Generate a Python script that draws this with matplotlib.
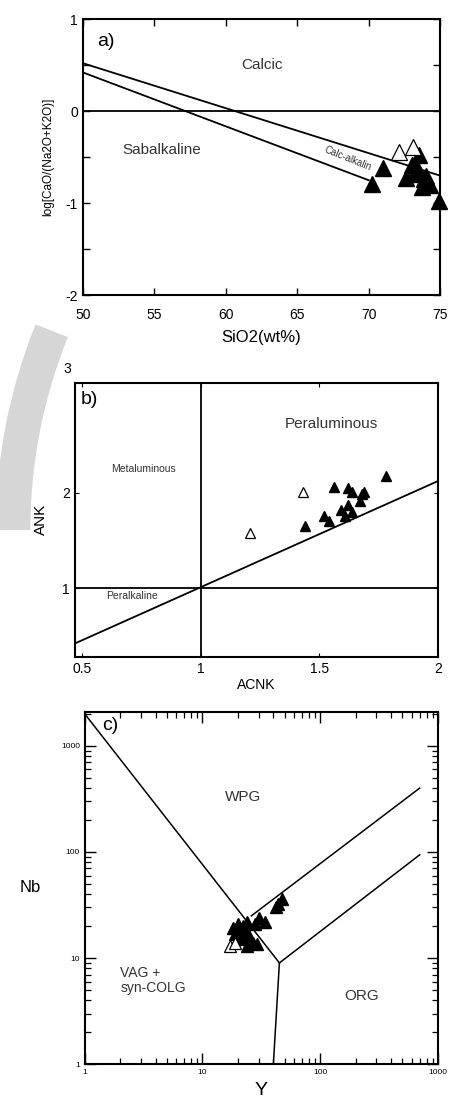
import numpy as np
import matplotlib.pyplot as plt
from matplotlib.patches import Arc

plt.rcParams['font.family'] = ['Liberation Sans', 'DejaVu Sans']
plt.rcParams['axes.unicode_minus'] = False

#%% data
# a) SiO2 vs log[CaO/(Na2O+K2O)]
a_open_x = [72.1, 73.1]
a_open_y = [-0.44, -0.39]
a_fill_x = [70.2, 71.0, 73.5, 73.0, 73.2, 72.6, 73.9, 74.3, 73.7, 73.4, 74.0, 74.9]
a_fill_y = [-0.79, -0.62, -0.48, -0.58, -0.68, -0.73, -0.74, -0.80, -0.82, -0.62, -0.70, -0.98]
a_upper = ([50, 75], [0.52, -0.70])
a_lower = ([50, 70], [0.42, -0.75])

# b) ACNK vs ANK
b_open_x = [1.21, 1.43]
b_open_y = [1.58, 2.01]
b_fill_x = [1.44, 1.56, 1.52, 1.54, 1.62, 1.64, 1.68, 1.69, 1.67, 1.78, 1.59, 1.62, 1.61, 1.64]
b_fill_y = [1.65, 2.06, 1.75, 1.70, 2.05, 2.01, 1.98, 2.01, 1.91, 2.17, 1.82, 1.87, 1.75, 1.80]
b_diag = ([0.47, 2.0], [0.42, 2.12])

# c) Y vs Nb
c_open_x = [17, 19]
c_open_y = [13, 14]
c_fill_x = [47, 44, 42, 34, 30, 28, 24, 22, 20, 18, 19, 23, 25, 21, 27, 29, 24, 22]
c_fill_y = [36, 32, 30, 22, 24, 21, 22, 20, 21, 19, 17, 17, 16, 15, 14, 13.5, 13, 18]
c_lines = [([1, 45], [2000, 9]),
           ([45, 40], [9, 1]),
           ([45, 700], [9, 94]),
           ([26, 700], [25, 400])]

#%% figure
fig = plt.figure(figsize=(4.51, 11.19), dpi=100)

# faint watermark on the left
wm = fig.add_axes([0, 0, 1, 1], zorder=-1)
wm.set_xlim(0, 451)
wm.set_ylim(1119, 0)
wm.axis('off')
wm.add_patch(Arc((545, 530), 1064, 1064, theta1=180, theta2=202, lw=25, color='#d6d6d6'))

lw = 1.3

# ---- panel a
ax = fig.add_axes([0.184, 0.736, 0.792, 0.247])
ax.plot(*a_upper, color='k', lw=lw)
ax.plot(*a_lower, color='k', lw=lw)
ax.axhline(0, color='k', lw=lw)
ax.plot(a_fill_x, a_fill_y, '^', color='k', ms=11, ls='none', clip_on=False)
ax.plot(a_open_x, a_open_y, '^', mfc='white', mec='k', ms=11, mew=0.9, ls='none')
ax.set_xlim(50, 75)
ax.set_ylim(-2, 1)
ax.set_xticks([50, 55, 60, 65, 70, 75])
ax.set_yticks([-2, -1, 0, 1])
ax.set_yticks([-1.5, -0.5, 0.5], minor=True)
ax.tick_params(direction='in', top=True, right=True, labelsize=10, length=5, width=1)
ax.tick_params(axis='x', pad=9)
ax.tick_params(which='minor', direction='in', right=True, length=5, width=1)
ax.set_xlabel('SiO2(wt%)', fontsize=12, labelpad=6)
ax.set_ylabel('log[CaO/(Na2O+K2O)]', fontsize=8.5, labelpad=8)
ax.text(0.04, 0.95, 'a)', transform=ax.transAxes, fontsize=14, va='top')
ax.text(62.5, 0.5, 'Calcic', fontsize=11, ha='center', va='center', color='#333333')
ax.text(55.5, -0.42, 'Sabalkaline', fontsize=11, ha='center', va='center', color='#333333')
ax.text(68.5, -0.52, 'Calc-alkalin', fontsize=7, ha='center', va='center', rotation=-22, color='#333333')
for s in ax.spines.values():
    s.set_linewidth(1.5)

# ---- panel b
ax = fig.add_axes([0.166, 0.413, 0.805, 0.245])
ax.axvline(1, color='k', lw=lw)
ax.axhline(1, color='k', lw=lw)
ax.plot(*b_diag, color='k', lw=lw)
ax.plot(b_fill_x, b_fill_y, '^', color='k', ms=7, ls='none')
ax.plot(b_open_x, b_open_y, '^', mfc='white', mec='k', ms=7, mew=0.9, ls='none')
ax.set_xlim(0.47, 2.0)
ax.set_ylim(0.28, 3.15)
ax.set_xticks([0.5, 1, 1.5, 2])
ax.set_xticklabels(['0.5', '1', '1.5', '2'])
ax.set_yticks([1, 2])
ax.tick_params(direction='in', top=True, right=True, labelsize=10, length=3, width=0.8)
ax.text(-0.02, 1.05, '3', transform=ax.transAxes, fontsize=10, ha='center', va='center')
ax.set_xlabel('ACNK', fontsize=10, labelpad=2)
ax.set_ylabel('ANK', fontsize=11, labelpad=10)
ax.text(0.015, 0.97, 'b)', transform=ax.transAxes, fontsize=14, va='top')
ax.text(1.55, 2.72, 'Peraluminous', fontsize=11, ha='center', va='center', color='#333333')
ax.text(0.76, 2.25, 'Metaluminous', fontsize=7.5, ha='center', va='center', color='#333333')
ax.text(0.71, 0.92, 'Peralkaline', fontsize=7.5, ha='center', va='center', color='#333333')
for s in ax.spines.values():
    s.set_linewidth(1.5)

# ---- panel c
ax = fig.add_axes([0.188, 0.049, 0.783, 0.315])
for lx, ly in c_lines:
    ax.plot(lx, ly, color='k', lw=1.1)
ax.plot(c_fill_x, c_fill_y, '^', color='k', ms=8, ls='none')
ax.plot(c_open_x, c_open_y, '^', mfc='white', mec='k', ms=8, mew=0.9, ls='none')
ax.set_xscale('log')
ax.set_yscale('log')
ax.set_xlim(1, 1000)
ax.set_ylim(1, 2100)
ax.set_xticks([1, 10, 100, 1000])
ax.set_xticklabels(['1', '10', '100', '1000'])
ax.set_yticks([1, 10, 100, 1000])
ax.set_yticklabels(['1', '10', '100', '1000'])
ax.tick_params(which='major', direction='in', top=True, right=True, labelsize=6, length=8, width=1)
ax.tick_params(which='minor', direction='in', top=True, right=True, length=4, width=0.9)
ax.set_xlabel('Y', fontsize=14, labelpad=4)
ax.set_ylabel('Nb', fontsize=12, rotation=0, labelpad=22, va='center')
ax.text(0.05, 0.985, 'c)', transform=ax.transAxes, fontsize=14, va='top')
ax.text(22, 330, 'WPG', fontsize=11, ha='center', va='center', color='#333333')
ax.text(2.0, 6.2, 'VAG +\nsyn-COLG', fontsize=10, ha='left', va='center', color='#333333', linespacing=1.1)
ax.text(226, 4.4, 'ORG', fontsize=11, ha='center', va='center', color='#333333')
for s in ax.spines.values():
    s.set_linewidth(1.5)

fig.savefig('out.png', dpi=100)
